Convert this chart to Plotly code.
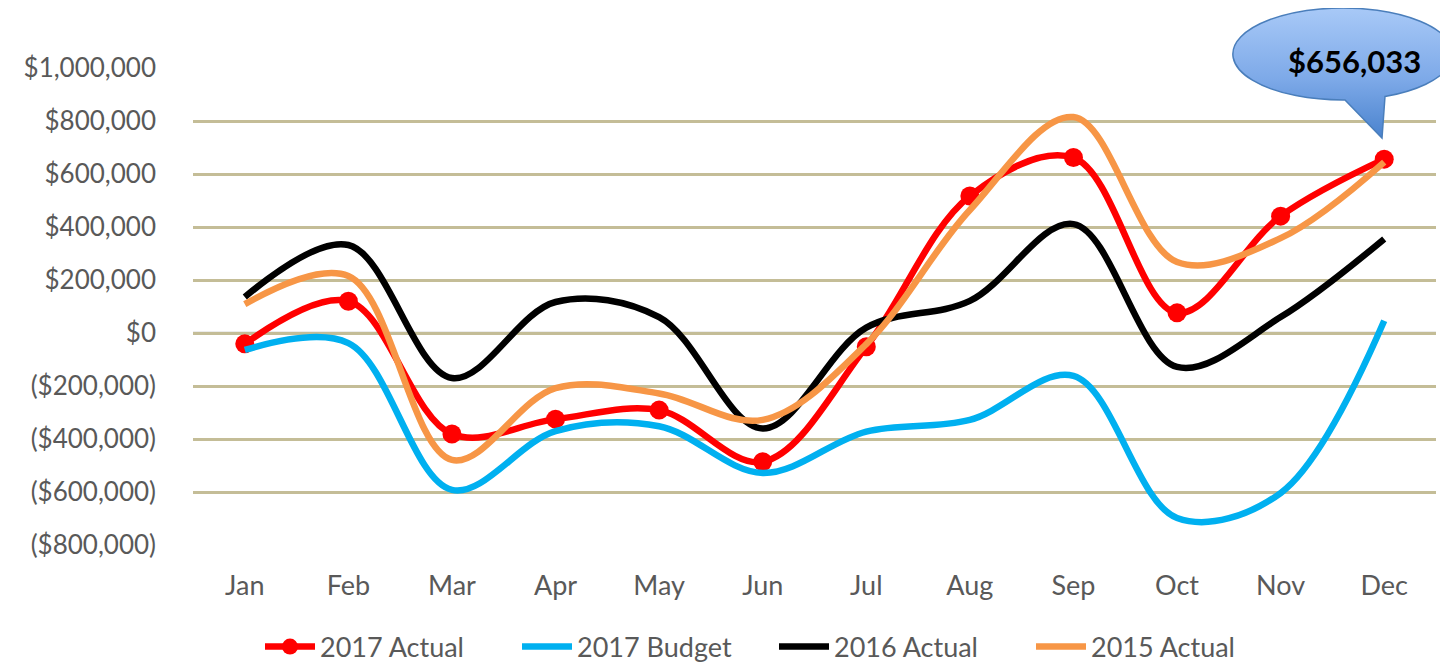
import base64
import plotly.graph_objects as go

months = ["Jan", "Feb", "Mar", "Apr", "May", "Jun", "Jul", "Aug", "Sep", "Oct", "Nov", "Dec"]
actual_2017 = [-41000, 120000, -381000, -325000, -291000, -486000, -52000, 517000, 662000, 76000, 441000, 656033]
budget_2017 = [-64000, -38000, -592000, -370000, -352000, -528000, -372000, -328000, -162000, -698000, -604000, 46000]
actual_2016 = [136000, 332000, -170000, 117000, 60000, -360000, 20000, 121000, 411000, -128000, 60000, 355000]
actual_2015 = [109000, 215000, -479000, -208000, -228000, -328000, -42000, 464000, 815000, 268000, 358000, 645000]
y_tickvals = [-800000, -600000, -400000, -200000, 0, 200000, 400000, 600000, 800000, 1000000]
y_ticktext = ["($800,000)", "($600,000)", "($400,000)", "($200,000)", "$0",
              "$200,000", "$400,000", "$600,000", "$800,000", "$1,000,000"]
callout_text = "$656,033"

FONT = "Lato"
GRAY = "#595959"

fig = go.Figure()
fig.add_trace(go.Scatter(x=months, y=actual_2017, name="2017 Actual", mode="lines+markers",
                         line=dict(color="#FF0000", width=6.5, shape="spline", smoothing=1.0),
                         marker=dict(size=19, color="#FF0000")))
fig.add_trace(go.Scatter(x=months, y=budget_2017, name="2017 Budget", mode="lines",
                         line=dict(color="#00B0F0", width=6.5, shape="spline", smoothing=1.0)))
fig.add_trace(go.Scatter(x=months, y=actual_2016, name="2016 Actual", mode="lines",
                         line=dict(color="#000000", width=6.5, shape="spline", smoothing=1.0)))
fig.add_trace(go.Scatter(x=months, y=actual_2015, name="2015 Actual", mode="lines",
                         line=dict(color="#F79646", width=6.5, shape="spline", smoothing=1.0)))

# page body has an 8px margin; the figure is sized/offset to compensate
OFF = 8
W, H = 1440, 658
ML, MR, MT, MB = 185, 12, 60, 121
pw = W - ML - MR
ph = H - MT - MB

def px_x(p):
    return (p - OFF - ML) / pw

def px_y(p):
    return (H - MB - (p - OFF)) / ph

# zero line (light gray) drawn under traces
fig.add_shape(type="line", xref="paper", yref="y", x0=0, x1=1, y0=0, y1=0,
              line=dict(color="#D9D9D9", width=3), layer="below")

# callout bubble as SVG image with gradient
img_x0, img_y0, img_w, img_h = 1226, 8, 222, 142
svg = f'''<svg xmlns="http://www.w3.org/2000/svg" width="{img_w}" height="{img_h}" viewBox="0 0 {img_w} {img_h}">
<defs><linearGradient id="g" x1="0" y1="0" x2="0" y2="1">
<stop offset="0" stop-color="#A8C9F7"/><stop offset="0.55" stop-color="#7DA9E8"/><stop offset="1" stop-color="#4A83CE"/>
</linearGradient></defs>
<path d="M119,92 A110,46 0 1 1 159,88.5 L156,130 Z" fill="url(#g)" stroke="#4A7EBB" stroke-width="1.5"/>
</svg>'''
src = "data:image/svg+xml;base64," + base64.b64encode(svg.encode()).decode()
fig.add_layout_image(dict(source=src, xref="paper", yref="paper",
                          x=px_x(img_x0), y=px_y(img_y0),
                          sizex=img_w / pw, sizey=img_h / ph,
                          xanchor="left", yanchor="top", sizing="stretch", layer="above"))
fig.add_annotation(xref="paper", yref="paper", x=px_x(1354), y=px_y(61), text=f"<b>{callout_text}</b>",
                   showarrow=False, font=dict(family=FONT, size=31, color="#000000"),
                   xanchor="center", yanchor="middle")

fig.update_layout(
    width=W, height=H,
    margin=dict(l=ML, r=MR, t=MT, b=MB, autoexpand=False),
    paper_bgcolor="white", plot_bgcolor="white",
    font=dict(family=FONT, color=GRAY),
    showlegend=True,
    legend=dict(orientation="h", x=px_x(260), y=px_y(647), xanchor="left", yanchor="middle",
                font=dict(family=FONT, size=27, color=GRAY), itemwidth=50, tracegroupgap=0,
                entrywidth=192, entrywidthmode="pixels"),
)
fig.update_xaxes(type="category", range=[-0.5, 11.5], showgrid=False, zeroline=False,
                 showline=False, ticks="", tickfont=dict(family=FONT, size=27, color=GRAY),
                 ticklabelstandoff=22, automargin=False)
fig.update_yaxes(range=[-800000, 1000000], tickvals=y_tickvals, ticktext=y_ticktext,
                 showgrid=True, gridcolor="#C4BD97", gridwidth=3, zeroline=False, showline=False,
                 ticks="", tickfont=dict(family=FONT, size=26, color=GRAY), ticklabelstandoff=36,
                 automargin=False)

fig.write_html("out.html")
